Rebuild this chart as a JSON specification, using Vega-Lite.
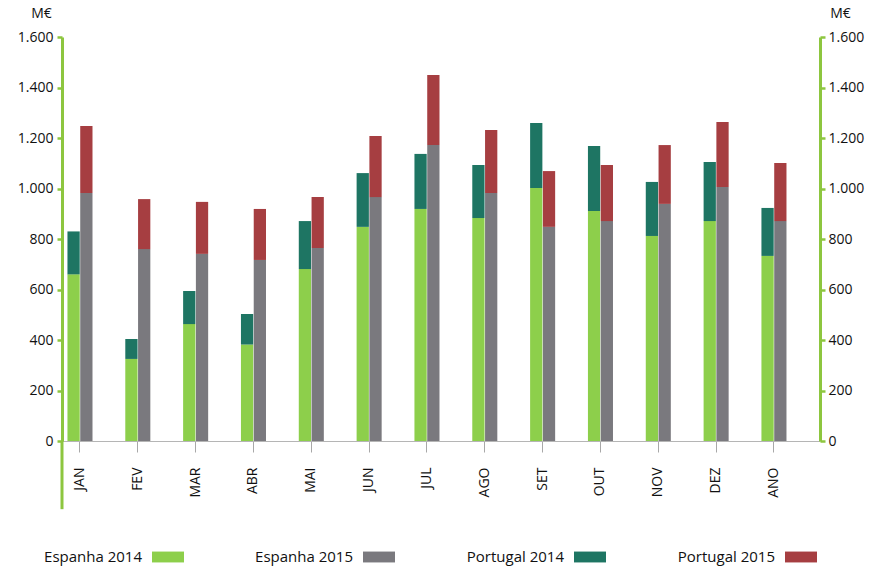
{
  "$schema": "https://vega.github.io/schema/vega-lite/v6.json",
  "width": 758,
  "height": 404,
  "autosize": {"type": "none"},
  "padding": {"left": 62, "top": 37, "right": 64, "bottom": 137},
  "background": "white",
  "config": {
    "view": {"stroke": null},
    "font": "Open Sans",
    "axis": {"grid": false, "labelFont": "Open Sans", "titleFont": "Open Sans"}
  },
  "resolve": {"axis": {"y": "independent"}},
  "layer": [
    {
      "data": {
        "values": [
          {"month": "JAN", "year": "2014", "country": "Espanha", "series": "Espanha 2014", "value": 660},
          {"month": "JAN", "year": "2014", "country": "Portugal", "series": "Portugal 2014", "value": 170},
          {"month": "JAN", "year": "2015", "country": "Espanha", "series": "Espanha 2015", "value": 982},
          {"month": "JAN", "year": "2015", "country": "Portugal", "series": "Portugal 2015", "value": 266},
          {"month": "FEV", "year": "2014", "country": "Espanha", "series": "Espanha 2014", "value": 325},
          {"month": "FEV", "year": "2014", "country": "Portugal", "series": "Portugal 2014", "value": 79},
          {"month": "FEV", "year": "2015", "country": "Espanha", "series": "Espanha 2015", "value": 760},
          {"month": "FEV", "year": "2015", "country": "Portugal", "series": "Portugal 2015", "value": 198},
          {"month": "MAR", "year": "2014", "country": "Espanha", "series": "Espanha 2014", "value": 463},
          {"month": "MAR", "year": "2014", "country": "Portugal", "series": "Portugal 2014", "value": 131},
          {"month": "MAR", "year": "2015", "country": "Espanha", "series": "Espanha 2015", "value": 741},
          {"month": "MAR", "year": "2015", "country": "Portugal", "series": "Portugal 2015", "value": 206},
          {"month": "ABR", "year": "2014", "country": "Espanha", "series": "Espanha 2014", "value": 382},
          {"month": "ABR", "year": "2014", "country": "Portugal", "series": "Portugal 2014", "value": 121},
          {"month": "ABR", "year": "2015", "country": "Espanha", "series": "Espanha 2015", "value": 717},
          {"month": "ABR", "year": "2015", "country": "Portugal", "series": "Portugal 2015", "value": 202},
          {"month": "MAI", "year": "2014", "country": "Espanha", "series": "Espanha 2014", "value": 681},
          {"month": "MAI", "year": "2014", "country": "Portugal", "series": "Portugal 2014", "value": 190},
          {"month": "MAI", "year": "2015", "country": "Espanha", "series": "Espanha 2015", "value": 764},
          {"month": "MAI", "year": "2015", "country": "Portugal", "series": "Portugal 2015", "value": 202},
          {"month": "JUN", "year": "2014", "country": "Espanha", "series": "Espanha 2014", "value": 848},
          {"month": "JUN", "year": "2014", "country": "Portugal", "series": "Portugal 2014", "value": 213},
          {"month": "JUN", "year": "2015", "country": "Espanha", "series": "Espanha 2015", "value": 966},
          {"month": "JUN", "year": "2015", "country": "Portugal", "series": "Portugal 2015", "value": 242},
          {"month": "JUL", "year": "2014", "country": "Espanha", "series": "Espanha 2014", "value": 919},
          {"month": "JUL", "year": "2014", "country": "Portugal", "series": "Portugal 2014", "value": 218},
          {"month": "JUL", "year": "2015", "country": "Espanha", "series": "Espanha 2015", "value": 1172},
          {"month": "JUL", "year": "2015", "country": "Portugal", "series": "Portugal 2015", "value": 278},
          {"month": "AGO", "year": "2014", "country": "Espanha", "series": "Espanha 2014", "value": 883},
          {"month": "AGO", "year": "2014", "country": "Portugal", "series": "Portugal 2014", "value": 210},
          {"month": "AGO", "year": "2015", "country": "Espanha", "series": "Espanha 2015", "value": 982},
          {"month": "AGO", "year": "2015", "country": "Portugal", "series": "Portugal 2015", "value": 250},
          {"month": "SET", "year": "2014", "country": "Espanha", "series": "Espanha 2014", "value": 1002},
          {"month": "SET", "year": "2014", "country": "Portugal", "series": "Portugal 2014", "value": 257},
          {"month": "SET", "year": "2015", "country": "Espanha", "series": "Espanha 2015", "value": 848},
          {"month": "SET", "year": "2015", "country": "Portugal", "series": "Portugal 2015", "value": 221},
          {"month": "OUT", "year": "2014", "country": "Espanha", "series": "Espanha 2014", "value": 911},
          {"month": "OUT", "year": "2014", "country": "Portugal", "series": "Portugal 2014", "value": 257},
          {"month": "OUT", "year": "2015", "country": "Espanha", "series": "Espanha 2015", "value": 871},
          {"month": "OUT", "year": "2015", "country": "Portugal", "series": "Portugal 2015", "value": 222},
          {"month": "NOV", "year": "2014", "country": "Espanha", "series": "Espanha 2014", "value": 812},
          {"month": "NOV", "year": "2014", "country": "Portugal", "series": "Portugal 2014", "value": 214},
          {"month": "NOV", "year": "2015", "country": "Espanha", "series": "Espanha 2015", "value": 939},
          {"month": "NOV", "year": "2015", "country": "Portugal", "series": "Portugal 2015", "value": 233},
          {"month": "DEZ", "year": "2014", "country": "Espanha", "series": "Espanha 2014", "value": 871},
          {"month": "DEZ", "year": "2014", "country": "Portugal", "series": "Portugal 2014", "value": 234},
          {"month": "DEZ", "year": "2015", "country": "Espanha", "series": "Espanha 2015", "value": 1006},
          {"month": "DEZ", "year": "2015", "country": "Portugal", "series": "Portugal 2015", "value": 257},
          {"month": "ANO", "year": "2014", "country": "Espanha", "series": "Espanha 2014", "value": 733},
          {"month": "ANO", "year": "2014", "country": "Portugal", "series": "Portugal 2014", "value": 190},
          {"month": "ANO", "year": "2015", "country": "Espanha", "series": "Espanha 2015", "value": 871},
          {"month": "ANO", "year": "2015", "country": "Portugal", "series": "Portugal 2015", "value": 230}
        ]
      },
      "mark": {"type": "bar"},
      "encoding": {
        "x": {
          "field": "month",
          "type": "nominal",
          "sort": ["JAN", "FEV", "MAR", "ABR", "MAI", "JUN", "JUL", "AGO", "SET", "OUT", "NOV", "DEZ", "ANO"],
          "scale": {"paddingInner": 0.567, "paddingOuter": 0.337, "align": 0.14},
          "axis": {
            "title": null,
            "labelAngle": -90,
            "labelAlign": "right",
            "labelBaseline": "middle",
            "labelPadding": 15,
            "labelFontSize": 14,
            "labelColor": "#111111",
            "tickColor": "#a8a8a8",
            "tickSize": 11,
            "tickWidth": 1,
            "domainColor": "#b5b5b5",
            "domainWidth": 1
          }
        },
        "xOffset": {"field": "year", "type": "nominal", "scale": {"paddingInner": 0.04}},
        "y": {
          "field": "value",
          "type": "quantitative",
          "stack": "zero",
          "scale": {"domain": [0, 1600], "nice": false, "zero": false},
          "axis": {
            "orient": "left",
            "values": [0, 200, 400, 600, 800, 1000, 1200, 1400, 1600],
            "labelExpr": "replace(format(datum.value, ','), ',', '.')",
            "labelFontSize": 14,
            "labelColor": "#111111",
            "labelPadding": 4,
            "tickColor": "#8dc63f",
            "tickWidth": 2.5,
            "tickSize": 5,
            "domainColor": "#8dc63f",
            "domainWidth": 3,
            "title": "M€",
            "titleAngle": 0,
            "titleX": -21,
            "titleY": -20,
            "titleAlign": "center",
            "titleBaseline": "alphabetic",
            "titleFontSize": 14,
            "titleFontWeight": "normal",
            "titleColor": "#111111"
          }
        },
        "color": {
          "field": "series",
          "type": "nominal",
          "scale": {
            "domain": ["Espanha 2014", "Espanha 2015", "Portugal 2014", "Portugal 2015"],
            "range": ["#8dcf4b", "#7a797e", "#1e7563", "#a63e41"]
          },
          "legend": {
            "title": null,
            "orient": "none",
            "legendX": 90,
            "legendY": 504,
            "direction": "horizontal",
            "columns": 4,
            "columnPadding": 71,
            "symbolType": "M-1,-0.34H1V0.34H-1Z",
            "symbolSize": 1024,
            "symbolStrokeWidth": 0,
            "symbolOpacity": 1,
            "symbolOffset": 0,
            "labelOffset": -42,
            "labelAlign": "right",
            "labelFont": "Open Sans",
            "labelFontSize": 15,
            "labelColor": "#111111",
            "labelLimit": 300
          }
        },
        "order": {"field": "country", "sort": "ascending"}
      }
    },
    {
      "data": {"values": [{"lo": -270, "hi": 0}]},
      "mark": {"type": "rule", "color": "#8dc63f", "strokeWidth": 3},
      "encoding": {
        "x": {"value": 0},
        "y": {
          "field": "lo",
          "type": "quantitative",
          "scale": {"domain": [0, 1600], "nice": false, "zero": false},
          "axis": {
            "orient": "right",
            "values": [0, 200, 400, 600, 800, 1000, 1200, 1400, 1600],
            "labelExpr": "replace(format(datum.value, ','), ',', '.')",
            "labelFontSize": 14,
            "labelColor": "#111111",
            "labelPadding": 3,
            "tickColor": "#8dc63f",
            "tickWidth": 2.5,
            "tickSize": 5,
            "domainColor": "#8dc63f",
            "domainWidth": 3,
            "title": "M€",
            "titleAngle": 0,
            "titleX": 20,
            "titleY": -20,
            "titleAlign": "center",
            "titleBaseline": "alphabetic",
            "titleFontSize": 14,
            "titleFontWeight": "normal",
            "titleColor": "#111111"
          }
        },
        "y2": {"field": "hi"}
      }
    }
  ]
}
